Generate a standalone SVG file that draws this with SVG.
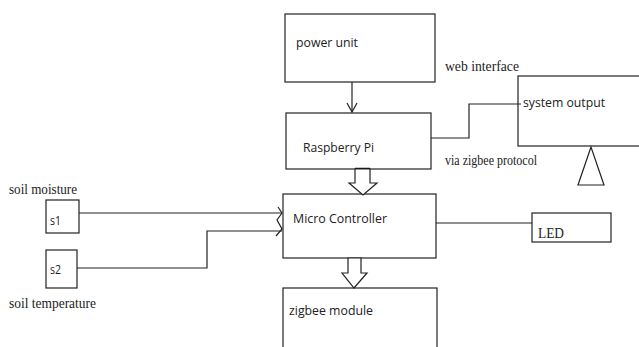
<svg xmlns="http://www.w3.org/2000/svg" width="639" height="347" viewBox="0 0 639 347">
<style>
.box{fill:#fff;stroke:#222;stroke-width:1.2}
.ln{fill:none;stroke:#222;stroke-width:1.2}
.blk{fill:#fff;stroke:#222;stroke-width:1.2;stroke-linejoin:miter}
.sans{font-family:"Open Sans","Liberation Sans",sans-serif;font-size:13.5px;fill:#222}
.ser{font-family:"Liberation Serif","Times New Roman",serif;font-size:15px;fill:#222}
</style>
<rect width="639" height="347" fill="#fff"/>
<g id="power-unit"><rect class="box" x="285" y="14" width="150" height="68"/><text class="sans" x="296" y="47" textLength="62" lengthAdjust="spacingAndGlyphs">power unit</text></g>
<g id="raspberry-pi"><rect class="box" x="286" y="113" width="145" height="56"/><text class="sans" x="303" y="152" textLength="71" lengthAdjust="spacingAndGlyphs">Raspberry Pi</text></g>
<g id="system-output"><rect class="box" x="518" y="76" width="130" height="70"/><text class="sans" x="523" y="107" textLength="82" lengthAdjust="spacingAndGlyphs">system output</text></g>
<g id="micro-controller"><rect class="box" x="283" y="194" width="153" height="64"/><text class="sans" x="293" y="223" textLength="94" lengthAdjust="spacingAndGlyphs">Micro Controller</text></g>
<g id="led"><rect class="box" x="532" y="213" width="79" height="29"/><text class="ser" x="538" y="238" textLength="26" lengthAdjust="spacingAndGlyphs">LED</text></g>
<g id="zigbee-module"><rect class="box" x="283" y="288" width="154" height="70"/><text class="sans" x="289" y="315" textLength="84" lengthAdjust="spacingAndGlyphs">zigbee module</text></g>
<g id="s1"><rect class="box" x="46" y="200" width="33" height="33"/><text class="sans" x="50" y="225" textLength="11" lengthAdjust="spacingAndGlyphs">s1</text></g>
<g id="s2"><rect class="box" x="46" y="250" width="31" height="38"/><text class="sans" x="50" y="274" textLength="11" lengthAdjust="spacingAndGlyphs">s2</text></g>
<g id="labels">
<text class="ser" x="445" y="71" textLength="74" lengthAdjust="spacingAndGlyphs">web interface</text>
<text class="ser" x="445" y="165" textLength="92" lengthAdjust="spacingAndGlyphs">via zigbee protocol</text>
<text class="ser" x="9" y="194" textLength="68" lengthAdjust="spacingAndGlyphs">soil moisture</text>
<text class="ser" x="9" y="308" textLength="87" lengthAdjust="spacingAndGlyphs">soil temperature</text>
</g>
<g id="antenna"><polygon class="blk" points="591,147 578,185 604,185"/></g>
<g id="connectors">
<line class="ln" x1="352" y1="82" x2="352" y2="112"/>
<polyline class="ln" points="347,103 352,112 357,103"/>
<polyline class="ln" points="431,138 469,138 469,104 521,104"/>
<line x1="355" y1="169" x2="370" y2="169" stroke="#111" stroke-width="2.5"/>
<polygon class="blk" points="355,169 370,169 370,183 377,183 363,195 349,183 355,183"/>
<polygon class="blk" points="348,258 361,258 361,273 367,273 354,288 342,273 348,273"/>
<line class="ln" x1="436" y1="223" x2="532" y2="223"/>
<line class="ln" x1="79" y1="213" x2="282" y2="213"/>
<polyline class="ln" points="278,207 282,213 277,220 282,229 276,236"/>
<polyline class="ln" points="77,268 207,268 207,231 282,231"/>
</g>
</svg>
